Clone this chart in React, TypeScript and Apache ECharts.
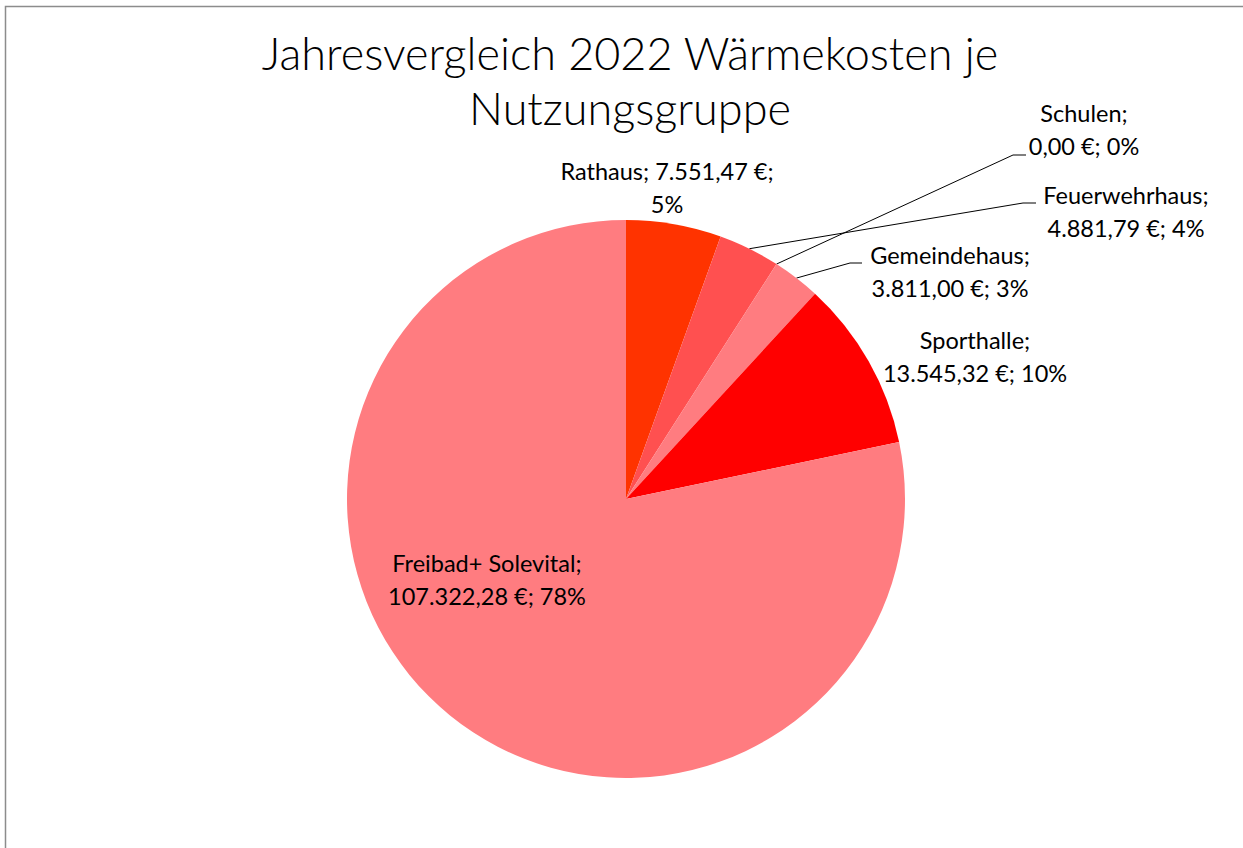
import React, { useEffect, useRef } from "react";
import * as echarts from "echarts";

const categories = ["Rathaus", "Feuerwehrhaus", "Schulen", "Gemeindehaus", "Sporthalle", "Freibad+ Solevital"];
const values = [7551.47, 4881.79, 0.0, 3811.0, 13545.32, 107322.28];
const colors = ["#FF3300", "#FF5050", "#FF7C80", "#FF7C80", "#FF0000", "#FF7C80"];
const titleText = "Jahresvergleich 2022 Wärmekosten je\nNutzungsgruppe";

// label layout: centre x, centre y, leader elbow [x, y] and leader end x (or null = no leader)
const labelPos: [number, number, number[] | null][] = [
  [667, 187, null],
  [1126, 211, [1023, 203, 1036]],
  [1084, 129, [1013, 155, 1026]],
  [950, 271, [850, 263, 862]],
  [975, 356, null],
  [487, 579, null],
];

const FONT = "Lato, 'Open Sans', sans-serif";

const fmt = (v: number) =>
  v.toLocaleString("de-DE", { minimumFractionDigits: 2, maximumFractionDigits: 2 });

export default function App() {
  const ref = useRef<HTMLDivElement>(null);
  useEffect(() => {
    if (!ref.current) return;
    const chart = echarts.init(ref.current, null, { renderer: "svg" });
    const data = categories.map((name, i) => ({
      name,
      value: values[i],
      itemStyle: { color: colors[i] },
      labelLine: { show: labelPos[i][2] !== null },
      label:
        i === 0
          ? { formatter: (p: any) => `${p.name}; ${fmt(p.value)} €;\n${p.percent}%` }
          : undefined,
    }));
    chart.setOption({
      animation: false,
      backgroundColor: "#ffffff",
      title: {
        text: titleText,
        top: 20,
        left: 625,
        textAlign: "center",
        textStyle: {
          fontFamily: FONT,
          fontSize: 45,
          fontWeight: 300,
          color: "#000",
          lineHeight: 55,
        },
      },
      graphic: [
        {
          type: "rect",
          shape: { x: 5.5, y: 6.5, width: 1400, height: 1000 },
          style: { fill: "none", stroke: "#8c8c8c", lineWidth: 1.5 },
          silent: true,
        },
      ],
      series: [
        {
          type: "pie",
          center: [626, 499],
          radius: [0, 279],
          startAngle: 90,
          clockwise: true,
          percentPrecision: 0,
          avoidLabelOverlap: false,
          label: {
            show: true,
            position: "outside",
            fontFamily: FONT,
            fontSize: 23.5,
            fontWeight: "normal",
            color: "#000",
            lineHeight: 33,
            align: "center",
            formatter: (p: any) => `${p.name};\n${fmt(p.value)} €; ${p.percent}%`,
          },
          labelLine: {
            show: true,
            length: 20,
            length2: 8,
            lineStyle: { color: "#000", width: 1 },
          },
          labelLayout: (params: any) => {
            const p = labelPos[params.dataIndex];
            const out: any = { x: p[0], y: p[1], align: "center", verticalAlign: "middle" };
            const lead = p[2];
            if (lead && params.labelLinePoints && params.labelLinePoints.length) {
              const start = params.labelLinePoints[0];
              out.labelLinePoints = [
                [start[0], start[1]],
                [lead[0], lead[1]],
                [lead[2], lead[1]],
              ];
            }
            return out;
          },
          emphasis: { disabled: true },
          data,
        },
      ],
    });
    return () => chart.dispose();
  }, []);
  return (
    <div
      ref={ref}
      style={{ position: "fixed", left: 0, top: 0, width: 1243, height: 848 }}
    />
  );
}
